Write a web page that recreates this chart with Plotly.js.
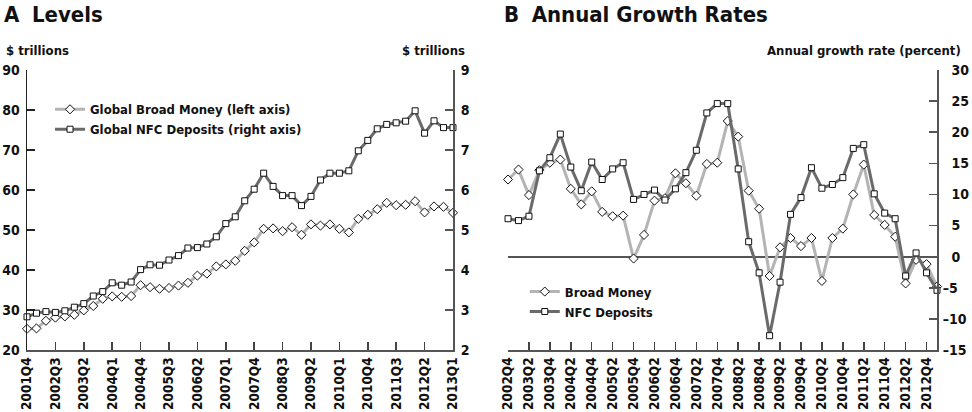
<!DOCTYPE html>
<html><head><meta charset="utf-8">
<script src="https://cdn.plot.ly/plotly-3.0.1.min.js"></script>
<style>html,body{margin:0;padding:0;background:#fff}#chart{width:972px;height:412px}</style>
</head><body><div id="chart"></div>
<script>
// Panel A: quarterly levels
const quartersA = ["2001Q4","2002Q1","2002Q2","2002Q3","2002Q4","2003Q1","2003Q2","2003Q3","2003Q4","2004Q1","2004Q2","2004Q3","2004Q4","2005Q1","2005Q2","2005Q3","2005Q4","2006Q1","2006Q2","2006Q3","2006Q4","2007Q1","2007Q2","2007Q3","2007Q4","2008Q1","2008Q2","2008Q3","2008Q4","2009Q1","2009Q2","2009Q3","2009Q4","2010Q1","2010Q2","2010Q3","2010Q4","2011Q1","2011Q2","2011Q3","2011Q4","2012Q1","2012Q2","2012Q3","2012Q4","2013Q1"];
const broadMoneyLevel = [25.3,25.4,27.3,28.1,28.4,28.8,29.9,31.0,32.8,33.4,33.3,33.5,36.2,35.7,35.3,35.5,36.1,36.8,38.6,39.1,40.9,41.4,42.3,44.8,46.9,50.3,50.4,49.7,50.7,48.8,51.4,51.1,51.4,50.3,49.4,52.8,53.8,55.2,56.8,56.2,56.3,57.2,54.4,55.9,55.8,54.3];
const nfcDepositLevel = [2.83,2.92,2.96,2.94,2.98,3.07,3.16,3.35,3.46,3.68,3.62,3.70,4.01,4.13,4.12,4.25,4.36,4.55,4.56,4.65,4.83,5.16,5.33,5.73,6.02,6.42,6.09,5.86,5.86,5.61,5.84,6.25,6.42,6.42,6.48,6.98,7.24,7.53,7.64,7.68,7.72,7.98,7.42,7.73,7.56,7.56];
const tickLabelsA = ["2001Q4","2002Q3","2003Q2","2004Q1","2004Q4","2005Q3","2006Q2","2007Q1","2007Q4","2008Q3","2009Q2","2010Q1","2010Q4","2011Q3","2012Q2","2013Q1"];

// Panel B: annual growth rates (percent)
const quartersB = ["2002Q4","2003Q1","2003Q2","2003Q3","2003Q4","2004Q1","2004Q2","2004Q3","2004Q4","2005Q1","2005Q2","2005Q3","2005Q4","2006Q1","2006Q2","2006Q3","2006Q4","2007Q1","2007Q2","2007Q3","2007Q4","2008Q1","2008Q2","2008Q3","2008Q4","2009Q1","2009Q2","2009Q3","2009Q4","2010Q1","2010Q2","2010Q3","2010Q4","2011Q1","2011Q2","2011Q3","2011Q4","2012Q1","2012Q2","2012Q3","2012Q4","2013Q1"];
const broadMoneyGrowth = [12.4,14.0,9.9,13.9,15.1,15.6,10.9,8.4,10.5,7.2,6.5,6.6,-0.3,3.5,9.0,9.4,13.4,11.8,9.8,14.9,15.1,21.8,19.3,10.6,7.7,-3.1,1.5,3.0,1.7,3.0,-3.9,3.0,4.5,10.0,14.8,6.7,5.1,3.2,-4.3,-0.5,-1.2,-4.8];
const nfcDepositGrowth = [6.1,5.8,6.5,13.8,15.9,19.7,14.4,10.6,15.2,12.4,14.1,15.1,9.2,10.0,10.7,9.1,10.9,13.5,17.1,23.1,24.6,24.6,14.1,2.4,-2.6,-12.7,-4.1,6.8,9.5,14.3,11.0,11.6,12.7,17.4,18.0,10.1,7.0,6.1,-3.1,0.6,-2.6,-5.4];
const tickLabelsB = ["2002Q4","2003Q2","2003Q4","2004Q2","2004Q4","2005Q2","2005Q4","2006Q2","2006Q4","2007Q2","2007Q4","2008Q2","2008Q4","2009Q2","2009Q4","2010Q2","2010Q4","2011Q2","2011Q4","2012Q2","2012Q4"];
const growthTickVals = [30,25,20,15,10,5,0,-5,-10,-15];
const growthTickText = ["\u200730","\u200725","\u200720","\u200715","\u200710","\u20075","\u20070","\u20135","\u201310","\u201315"];

const FONT = "DejaVu Sans Condensed, DejaVu Sans, sans-serif";
const LIGHT = "#b4b4b4", DARK = "#6a6a6a";
const mk = (sym) => ({symbol: sym, size: sym === "diamond" ? 7 : 6, color: "#ffffff", line: {color: "#111", width: 1}});

const traces = [
  {x: quartersA, y: broadMoneyLevel, name: "Global Broad Money (left axis)", type: "scatter", mode: "lines+markers",
   xaxis: "x", yaxis: "y", line: {color: LIGHT, width: 3}, marker: mk("diamond"), cliponaxis: false, legend: "legend"},
  {x: quartersA, y: nfcDepositLevel, name: "Global NFC Deposits (right axis)", type: "scatter", mode: "lines+markers",
   xaxis: "x", yaxis: "y2", line: {color: DARK, width: 3}, marker: mk("square"), cliponaxis: false, legend: "legend"},
  {x: quartersB, y: broadMoneyGrowth, name: "Broad Money", type: "scatter", mode: "lines+markers",
   xaxis: "x2", yaxis: "y3", line: {color: LIGHT, width: 3}, marker: mk("diamond"), cliponaxis: false, legend: "legend2"},
  {x: quartersB, y: nfcDepositGrowth, name: "NFC Deposits", type: "scatter", mode: "lines+markers",
   xaxis: "x2", yaxis: "y3", line: {color: DARK, width: 3}, marker: mk("square"), cliponaxis: false, legend: "legend2"}
];

const tickFont = {family: FONT, size: 14, color: "#111", weight: "bold"};
const xTickFont = {family: FONT, size: 13.5, color: "#111", weight: "bold"};
const txtFont = {family: FONT, size: 13, color: "#111", weight: "bold"};

const layout = {
  width: 972, height: 412,
  margin: {l: 27, r: 35, t: 70, b: 62},
  paper_bgcolor: "#fff", plot_bgcolor: "#fff",
  font: {family: FONT, color: "#111"},
  showlegend: true,
  xaxis: {domain: [0, 0.4681], type: "category", range: [0, quartersA.length - 1], anchor: "y",
    tickmode: "array", tickvals: tickLabelsA, ticktext: tickLabelsA, tickangle: -90,
    ticks: "inside", ticklen: 8, tickcolor: "#444", tickwidth: 1.5, tickfont: xTickFont,
    showline: true, linecolor: "#555", linewidth: 2, showgrid: false, zeroline: false, fixedrange: true},
  yaxis: {domain: [0, 1], range: [20, 90], dtick: 10, anchor: "x", side: "left",
    ticks: "inside", ticklen: 8, tickcolor: "#222", tickwidth: 1.5, tickfont: tickFont, ticklabelstandoff: 3,
    showline: true, linecolor: "#222", linewidth: 1.5, showgrid: false, zeroline: false},
  yaxis2: {range: [2, 9], dtick: 1, overlaying: "y", side: "right", anchor: "x",
    ticks: "inside", ticklen: 8, tickcolor: "#555", tickwidth: 1.5, tickfont: tickFont, ticklabelstandoff: 3,
    showline: true, linecolor: "#555", linewidth: 2, showgrid: false, zeroline: false},
  xaxis2: {domain: [0.5286, 1], type: "category", range: [0, quartersB.length - 1], anchor: "y3",
    tickmode: "array", tickvals: tickLabelsB, ticktext: tickLabelsB, tickangle: -90,
    ticks: "inside", ticklen: 8, tickcolor: "#444", tickwidth: 1.5, tickfont: xTickFont,
    showline: true, linecolor: "#555", linewidth: 2, showgrid: false, zeroline: false},
  yaxis3: {domain: [0, 1], range: [-15, 30], anchor: "x2", side: "right",
    tickmode: "array", tickvals: growthTickVals, ticktext: growthTickText,
    ticks: "inside", ticklen: 8, tickcolor: "#555", tickwidth: 1.5, tickfont: tickFont, ticklabelstandoff: 1,
    showline: true, linecolor: "#555", linewidth: 2, showgrid: false,
    zeroline: true, zerolinecolor: "#555", zerolinewidth: 2},
  yaxis4: {domain: [0, 1], range: [-15, 30], dtick: 5, anchor: "x2", side: "left", overlaying: "y3",
    ticks: "inside", ticklen: 8, tickcolor: "#222", tickwidth: 1.5, showticklabels: false,
    showline: true, linecolor: "#222", linewidth: 1.5, showgrid: false, zeroline: false},
  legend: {x: 0.0253, y: 0.913, xanchor: "left", yanchor: "top", bgcolor: "rgba(0,0,0,0)",
    font: txtFont, tracegroupgap: 0, itemwidth: 30},
  legend2: {x: 0.547, y: 0.262, xanchor: "left", yanchor: "top", bgcolor: "rgba(0,0,0,0)",
    font: txtFont, tracegroupgap: 0, itemwidth: 30},
  annotations: [
    {text: "<b>A</b>  <b>Levels</b>", xref: "paper", yref: "paper", x: -0.027, y: 1.2, xanchor: "left", yanchor: "middle",
     showarrow: false, font: {family: FONT, size: 22, color: "#111"}},
    {text: "<b>B</b>  <b>Annual Growth Rates</b>", xref: "paper", yref: "paper", x: 0.522, y: 1.2, xanchor: "left", yanchor: "middle",
     showarrow: false, font: {family: FONT, size: 22, color: "#111"}},
    {text: "$ trillions", xref: "paper", yref: "paper", x: -0.025, y: 1.071, xanchor: "left", yanchor: "middle",
     showarrow: false, font: txtFont},
    {text: "$ trillions", xref: "paper", yref: "paper", x: 0.484, y: 1.071, xanchor: "right", yanchor: "middle",
     showarrow: false, font: txtFont},
    {text: "Annual growth rate (percent)", xref: "paper", yref: "paper", x: 1.029, y: 1.071, xanchor: "right", yanchor: "middle",
     showarrow: false, font: txtFont}
  ]
};

Plotly.newPlot("chart", traces, layout, {staticPlot: true, displayModeBar: false});
</script>
</body></html>
